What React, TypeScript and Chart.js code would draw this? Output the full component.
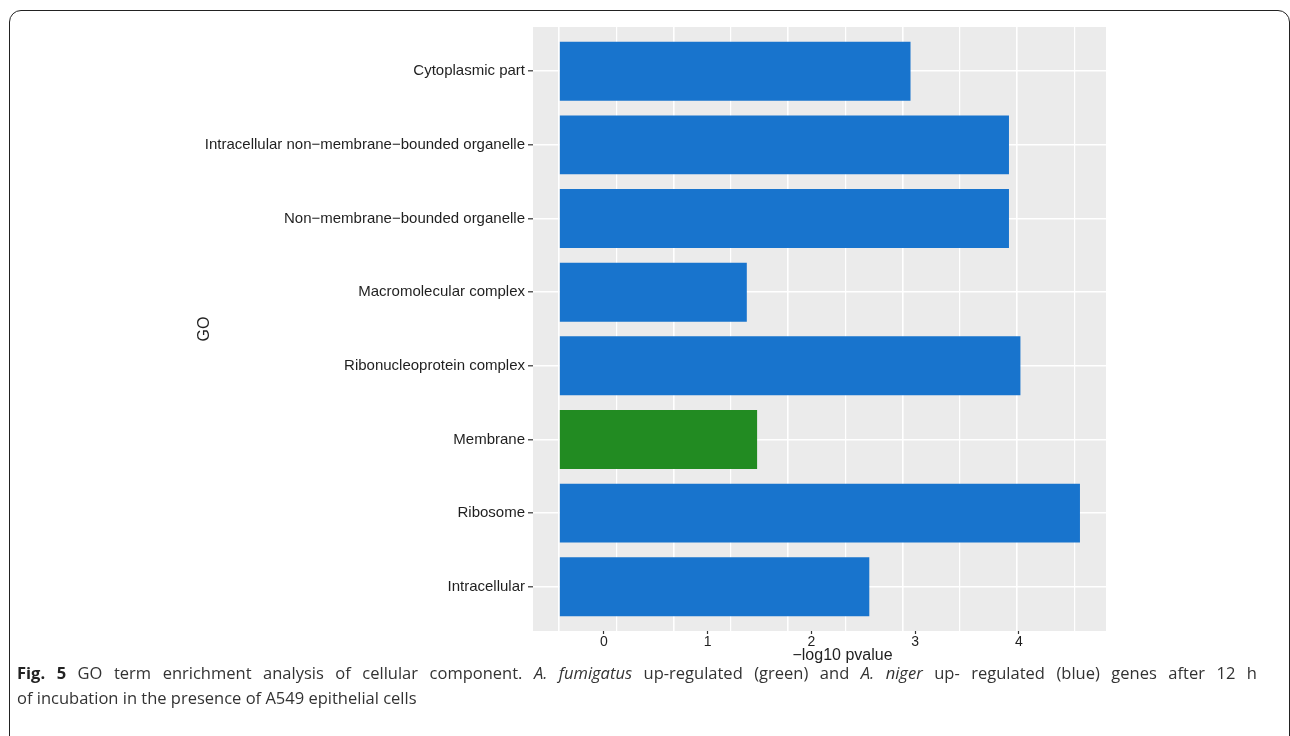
import React, { useEffect, useRef } from "react";
import { Chart, registerables } from "chart.js";

Chart.register(...registerables);

// GO cellular-component terms, top to bottom
const goTerms = [
  "Cytoplasmic part",
  "Intracellular non\u2212membrane\u2212bounded organelle",
  "Non\u2212membrane\u2212bounded organelle",
  "Macromolecular complex",
  "Ribonucleoprotein complex",
  "Membrane",
  "Ribosome",
  "Intracellular",
];

// -log10(p) enrichment per term
const negLog10P = [3.07, 3.93, 3.93, 1.64, 4.03, 1.73, 4.55, 2.71];

// species in which the genes are up-regulated
const upregulatedIn = ["niger", "niger", "niger", "niger", "niger", "fumigatus", "niger", "niger"];

// panel grid positions (major + minor) and printed axis tick labels
const gridBreaks = [0, 0.5, 1, 1.5, 2, 2.5, 3, 3.5, 4, 4.5];
const axisTickLabels = [0, 1, 2, 3, 4];

const speciesColor: Record<string, string> = {
  fumigatus: "#228B22",
  niger: "#1874CD",
};

const FONT = '"Liberation Sans", Arial, sans-serif';
const TEXT = "#1f1f1f";

const panelBackground = {
  id: "panelBackground",
  beforeDraw(chart: Chart) {
    const { ctx, chartArea } = chart;
    ctx.save();
    ctx.fillStyle = "#EBEBEB";
    ctx.fillRect(chartArea.left, chartArea.top, chartArea.right - chartArea.left, chartArea.bottom - chartArea.top);
    ctx.restore();
  },
};

const xAxisTitle = {
  id: "xAxisTitle",
  afterDraw(chart: Chart) {
    const { ctx, chartArea } = chart;
    ctx.save();
    ctx.font = `16px ${FONT}`;
    ctx.fillStyle = TEXT;
    ctx.textAlign = "center";
    ctx.textBaseline = "middle";
    ctx.fillText("\u2212log10 pvalue", (chartArea.left + chartArea.right) / 2 + 23, chartArea.bottom + 25);
    ctx.restore();
  },
};

export default function App() {
  const canvasRef = useRef<HTMLCanvasElement | null>(null);

  useEffect(() => {
    const canvas = canvasRef.current;
    if (!canvas) return;

    const chart = new Chart(canvas, {
      type: "bar",
      data: {
        datasets: [
          {
            data: negLog10P.map((v, i) => ({ x: v, y: i })),
            backgroundColor: upregulatedIn.map((s) => speciesColor[s]),
            borderWidth: 0,
            categoryPercentage: 0.8,
            barPercentage: 1,
          },
        ],
      },
      options: {
        indexAxis: "y",
        animation: false,
        responsive: false,
        events: [],
        layout: { padding: { left: 195, right: 184, top: 27, bottom: 13 } },
        plugins: {
          legend: { display: false },
          tooltip: { enabled: false },
        },
        scales: {
          x: {
            type: "linear",
            position: "bottom",
            min: -0.2275,
            max: 4.7775,
            afterBuildTicks: (axis: any) => {
              axis.ticks = gridBreaks.map((v) => ({ value: v }));
            },
            afterFit: (axis: any) => {
              axis.height = 0;
            },
            ticks: { display: false },
            grid: {
              color: "#FFFFFF",
              lineWidth: (c: any) => (c.tick && c.tick.value % 1 === 0 ? 1.6 : 1.2),
              drawTicks: false,
            },
            border: { display: false },
          },
          xLabels: {
            type: "linear",
            position: "bottom",
            min: -0.684,
            max: 4.839,
            afterBuildTicks: (axis: any) => {
              axis.ticks = axisTickLabels.map((v) => ({ value: v }));
            },
            afterFit: (axis: any) => {
              axis.height = 36;
            },
            ticks: {
              color: TEXT,
              font: { family: FONT, size: 14 },
              padding: 0,
              maxRotation: 0,
              autoSkip: false,
              callback: (v: any) => String(v),
            },
            grid: {
              drawOnChartArea: false,
              drawTicks: true,
              tickLength: 3,
              tickColor: "#333333",
              tickWidth: 1.2,
            },
            border: { display: false },
          },
          y: {
            type: "linear",
            reverse: true,
            offset: false,
            min: -0.6,
            max: 7.6,
            afterBuildTicks: (axis: any) => {
              axis.ticks = goTerms.map((_, i) => ({ value: i }));
            },
            afterFit: (axis: any) => {
              axis.width = 338;
            },
            ticks: {
              color: TEXT,
              font: { family: FONT, size: 15 },
              padding: 3,
              autoSkip: false,
              callback: (v: any) => goTerms[v] ?? "",
            },
            grid: {
              offset: false,
              color: "#FFFFFF",
              lineWidth: 1.6,
              drawTicks: true,
              tickLength: 5,
              tickColor: "#333333",
              tickWidth: 1.2,
            },
            border: { display: false },
            title: {
              display: true,
              text: "GO",
              color: TEXT,
              font: { family: FONT, size: 16 },
              padding: 0,
            },
          },
        },
      },
      plugins: [panelBackground, xAxisTitle],
    } as any);

    return () => chart.destroy();
  }, []);

  const captionFont = {
    fontFamily: '"Open Sans", sans-serif',
    fontSize: 16.5,
    lineHeight: "25px",
    color: "#333",
    whiteSpace: "nowrap" as const,
  };

  return (
    <div style={{ position: "absolute", left: 0, top: 0, width: 1290, height: 736, overflow: "hidden", background: "#fff" }}>
      <div
        style={{
          position: "absolute",
          left: 9,
          top: 10,
          width: 1281,
          height: 760,
          boxSizing: "border-box",
          border: "1.6px solid #222",
          borderRadius: 12,
        }}
      />
      <canvas
        ref={canvasRef}
        width={1290}
        height={680}
        style={{ position: "absolute", left: 0, top: 0, width: 1290, height: 680 }}
      />
      <div style={{ position: "absolute", left: 17, top: 660, width: 1240 }}>
        <div style={{ ...captionFont, textAlign: "justify", textAlignLast: "justify" }}>
          <b style={{ color: "#222" }}>Fig. 5</b> GO term enrichment analysis of cellular component. <i>A. fumigatus</i> up-regulated
          (green) and <i>A. niger</i> up- regulated (blue) genes after 12 h
        </div>
        <div style={captionFont}>of incubation in the presence of A549 epithelial cells</div>
      </div>
    </div>
  );
}
